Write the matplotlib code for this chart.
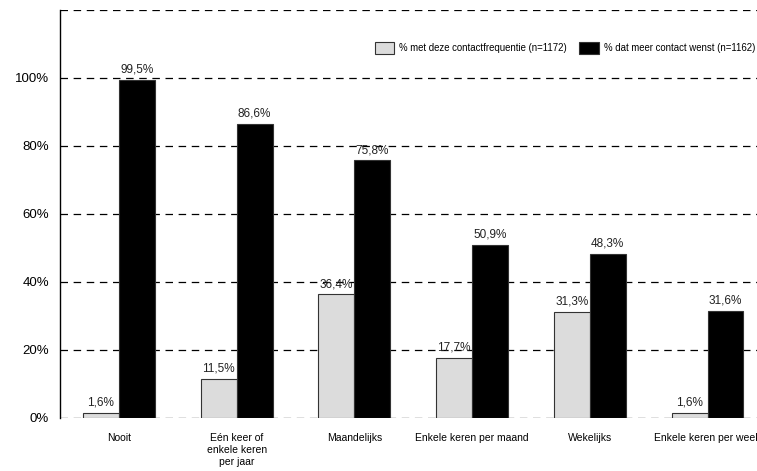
import numpy as np
import matplotlib
matplotlib.use("Agg")
import matplotlib.pyplot as plt
from matplotlib.patches import Patch

plt.rcParams["font.family"] = ["Liberation Sans", "DejaVu Sans"]

categories = ["Nooit", "Eén keer of\nenkele keren\nper jaar", "Maandelijks",
              "Enkele keren per maand", "Wekelijks", "Enkele keren per week"]
freq = [1.6, 11.5, 36.4, 17.7, 31.3, 1.6]
wish = [99.5, 86.6, 75.8, 50.9, 48.3, 31.6]
freq_label = "% met deze contactfrequentie (n=1172)"
wish_label = "% dat meer contact wenst (n=1162)"
yticks = [0, 20, 40, 60, 80, 100]

GREY = "#dcdcdc"
W = 0.305

fig = plt.figure(figsize=(7.57, 4.71), dpi=100)
ax = fig.add_axes([60 / 757, 53 / 471, 697 / 757, 408 / 471])

x = np.arange(len(categories))
b1 = ax.bar(x - W / 2, freq, W, color=GREY, edgecolor="#333333", lw=0.8, zorder=3)
b2 = ax.bar(x + W / 2, wish, W, color="black", edgecolor="#333333", lw=0.8, zorder=3)

def fmt(v):
    return ("%.1f%%" % v).replace(".", ",")

for bars, vals in [(b1, freq), (b2, wish)]:
    for r, v in zip(bars, vals):
        ax.annotate(fmt(v), (r.get_x() + r.get_width() / 2, v), xytext=(0, 3),
                    textcoords="offset points", ha="center", va="bottom",
                    fontsize=8.5, color="#222222", zorder=4)

# dashed gridlines, including the 0 and 120 levels
for y in range(0, 121, 20):
    ax.axhline(y, color="black", ls=(0, (6, 4.5)), lw=0.9, zorder=1)

ax.set_xlim(-0.5, 5.42)
ax.set_ylim(0, 120)
ax.set_yticks(yticks)
ax.set_yticklabels(["%d%%" % v for v in yticks], fontsize=9.5)
ax.set_xticks(x)
ax.set_xticklabels(categories, fontsize=7.5, linespacing=1.25)
ax.tick_params(axis="both", length=0)
ax.tick_params(axis="x", pad=11)
ax.tick_params(axis="y", pad=8)
for s in ["top", "right", "bottom"]:
    ax.spines[s].set_visible(False)
ax.spines["left"].set_linewidth(1.0)

handles = [Patch(facecolor=GREY, edgecolor="#333333", lw=0.8),
           Patch(facecolor="black", edgecolor="#333333", lw=0.8)]
ax.legend(handles, [freq_label, wish_label], loc="upper right",
          bbox_to_anchor=(1.003, 0.93), ncol=2, frameon=False, fontsize=6.9,
          handlelength=2.0, handleheight=1.5, handletextpad=0.55,
          columnspacing=1.3, borderaxespad=0)

fig.savefig("out.png", dpi=100)
